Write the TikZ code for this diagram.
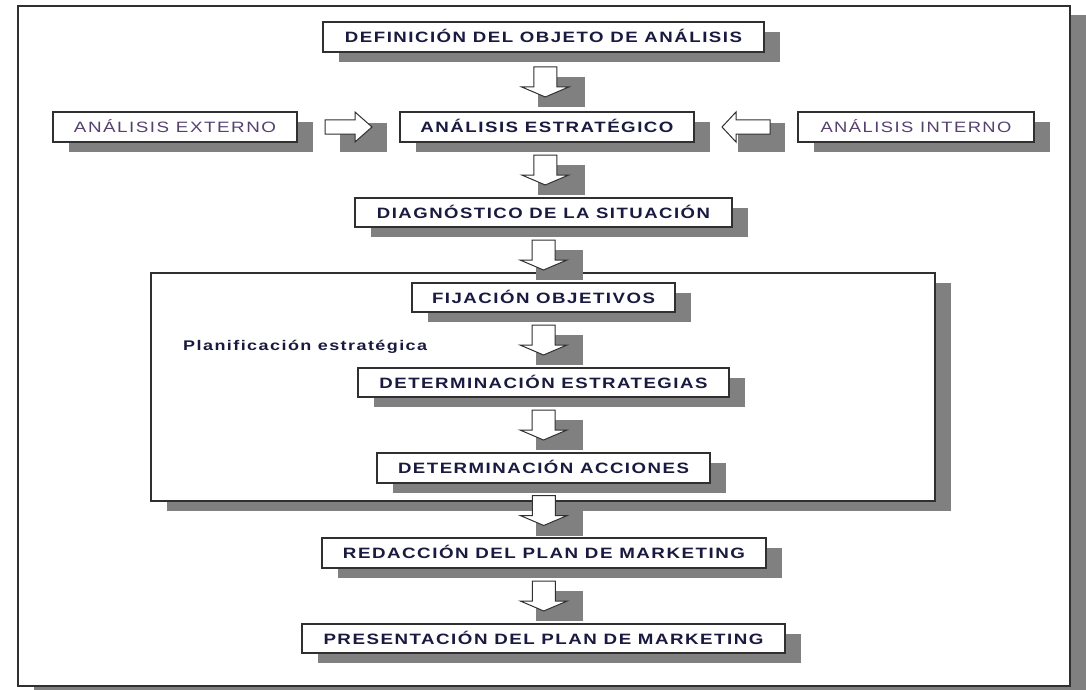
\documentclass[tikz,border=0pt]{standalone}
\usepackage{fontspec}
\usepackage{graphicx}
\usetikzlibrary{calc,shadows}
\newfontfamily\lab[LetterSpace=8]{Liberation Sans}
\definecolor{shd}{HTML}{808080}
\definecolor{ink}{HTML}{1A1A40}
\definecolor{inkl}{HTML}{55406E}
\definecolor{edge}{HTML}{303030}
\newcommand\bt[2]{\resizebox{#1pt}{\height}{\lab\bfseries\fontsize{15}{18}\selectfont #2}}
\newcommand\rt[2]{\resizebox{#1pt}{\height}{\lab\fontsize{15}{18}\selectfont #2}}
\tikzset{
  box/.style={draw=edge, line width=1.2pt, fill=white, inner sep=0pt,
    text height=11pt, text depth=0pt, text=ink,
    drop shadow={shadow xshift=16pt, shadow yshift=-10pt, opacity=1, fill=shd}},
  arr/.style={draw=edge, line width=1pt, fill=white, line join=miter},
  frm/.style={draw=edge, line width=1.4pt, fill=white},
}
\newcommand\downarr[2]{%
  \begin{scope}[shift={($(#1.south)!0.5!(#2.north)$)}]
    \fill[shd] (-7.5,-5) rectangle (39.5,25);
    \draw[arr] (-11.5,-15) -- (11.5,-15) -- (11.5,5) -- (23.5,5) -- (0,15) -- (-23.5,5) -- (-11.5,5) -- cycle;
  \end{scope}}
\newcommand\rightarr[2]{%
  \begin{scope}[shift={($(#1.east)!0.5!(#2.west)$)}]
    \fill[shd] (-8.5,-4) rectangle (38.5,25);
    \draw[arr] (-23.5,-7) -- (6.5,-7) -- (6.5,-15) -- (23.5,0) -- (6.5,15) -- (6.5,7) -- (-23.5,7) -- cycle;
  \end{scope}}
\newcommand\leftarr[2]{%
  \begin{scope}[shift={($(#1.east)!0.5!(#2.west)$)}]
    \fill[shd] (-8,-4) rectangle (39,25);
    \draw[arr] (24,-7) -- (-10,-7) -- (-10,-15) -- (-24,0) -- (-10,15) -- (-10,7) -- (24,7) -- cycle;
  \end{scope}}
\begin{document}
\begin{tikzpicture}[x=1pt,y=-1pt]
\useasboundingbox (0,0) rectangle (1086,690);
\fill[white] (0,0) rectangle (1086,690);
% outer frame
\fill[shd] (34,15) rectangle (1086,696);
\draw[frm] (18,6) rectangle (1070,686);
% planning frame
\fill[shd] (167,283) rectangle (951,511);
\draw[frm] (151,273) rectangle (935,501);
\node[anchor=base west, inner sep=0pt, text=ink] (plan) at (183,350)
  {\resizebox{244pt}{\height}{\lab\bfseries\fontsize{14}{16}\selectfont Planificación estratégica}};
% boxes
\node[box, minimum width=441pt, minimum height=30pt] (def) at (543.5,37) {\bt{397}{DEFINICIÓN DEL OBJETO DE ANÁLISIS}};
\node[box, minimum width=244pt, minimum height=30pt, text=inkl] (ext) at (175,127) {\rt{202}{ANÁLISIS EXTERNO}};
\node[box, minimum width=294pt, minimum height=30pt] (est) at (547,127) {\bt{253}{ANÁLISIS ESTRATÉGICO}};
\node[box, minimum width=236pt, minimum height=30pt, text=inkl] (int) at (916,127) {\rt{191}{ANÁLISIS INTERNO}};
\node[box, minimum width=377pt, minimum height=29pt] (diag) at (543.5,212.5) {\bt{333}{DIAGNÓSTICO DE LA SITUACIÓN}};
\node[box, minimum width=263pt, minimum height=29pt] (fij) at (543.5,297.5) {\bt{223}{FIJACIÓN OBJETIVOS}};
\node[box, minimum width=371pt, minimum height=29pt] (dest) at (543.5,382.5) {\bt{328}{DETERMINACIÓN ESTRATEGIAS}};
\node[box, minimum width=333pt, minimum height=30pt] (dacc) at (543.5,468) {\bt{291}{DETERMINACIÓN ACCIONES}};
\node[box, minimum width=444pt, minimum height=30pt] (red) at (544,553) {\bt{402}{REDACCIÓN DEL PLAN DE MARKETING}};
\node[box, minimum width=483pt, minimum height=29pt] (pres) at (543.5,638.5) {\bt{440}{PRESENTACIÓN DEL PLAN DE MARKETING}};
% block arrows
\downarr{def}{est}
\rightarr{ext}{est}
\leftarr{est}{int}
\downarr{est}{diag}
\downarr{diag}{fij}
\downarr{fij}{dest}
\downarr{dest}{dacc}
\downarr{dacc}{red}
\downarr{red}{pres}
\end{tikzpicture}
\end{document}
